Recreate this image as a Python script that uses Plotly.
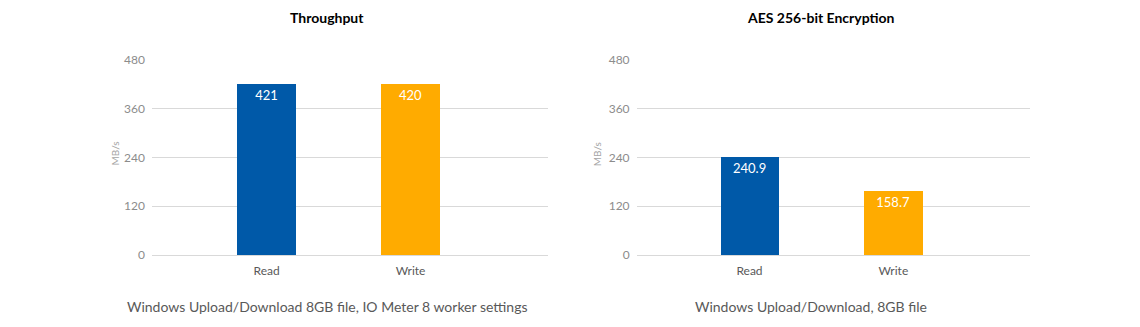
import plotly.graph_objects as go

categories = ["Read", "Write"]
throughput = [421, 420]
encryption = [240.9, 158.7]
y_ticks = [0, 120, 240, 360, 480]
bar_colors = ["#0059A8", "#FFAB00"]

panel_titles = ["Throughput", "AES 256-bit Encryption"]
panel_captions = [
    "Windows Upload/Download 8GB file, IO Meter 8 worker settings",
    "Windows Upload/Download, 8GB file",
]
unit_label = "MB/s"

FONT = "Lato, Open Sans, sans-serif"
W, H = 1140, 327

fig = go.Figure()
for i, vals in enumerate([throughput, encryption]):
    fig.add_trace(go.Bar(
        x=categories, y=vals,
        marker=dict(color=bar_colors, line=dict(width=0)),
        width=0.408,
        text=[f"{v:g}" for v in vals],
        textposition="inside", insidetextanchor="end",
        textfont=dict(color="white", size=13, family=FONT),
        xaxis="x" if i == 0 else "x2",
        yaxis="y" if i == 0 else "y2",
        showlegend=False, hoverinfo="skip",
    ))

# plot areas in pixels: left panel and right panel
x_domains = [[152 / W, 548 / W], [636.6 / W, 1030.4 / W]]
x_ranges = [[-0.796, 1.955], [-0.785, 1.953]]
y_domain = [(H - 259) / H, (H - 54) / H]

axis_common_x = dict(
    type="category", showgrid=False, zeroline=False,
    showline=False, ticks="", tickfont=dict(size=12, color="#595959", family=FONT),
    ticklabelstandoff=7, fixedrange=True,
)
axis_common_y = dict(
    range=[0, 480], tickvals=y_ticks, showgrid=True, gridcolor="#D9D9D9",
    gridwidth=1, zeroline=True, zerolinecolor="#D9D9D9", zerolinewidth=1,
    showline=False, ticks="", tickfont=dict(size=12, color="#8C8C8C", family=FONT),
    ticklabelstandoff=6, domain=y_domain, fixedrange=True,
)

fig.update_layout(
    width=W, height=H,
    margin=dict(l=0, r=0, t=0, b=0),
    paper_bgcolor="white", plot_bgcolor="white",
    bargap=0,
    xaxis=dict(domain=x_domains[0], range=x_ranges[0], anchor="y", **axis_common_x),
    xaxis2=dict(domain=x_domains[1], range=x_ranges[1], anchor="y2", **axis_common_x),
    yaxis=dict(anchor="x", **axis_common_y),
    yaxis2=dict(anchor="x2", **axis_common_y),
)

title_x = [327, 820.6]
caption_x = [327, 810.6]
unit_x = [114.6, 597.3]
annotations = []
for i in range(2):
    annotations.append(dict(
        x=title_x[i] / W, y=1 - 10 / H, xref="paper", yref="paper",
        text=f"<b>{panel_titles[i]}</b>", showarrow=False,
        font=dict(size=14, color="#000000", family=FONT),
        xanchor="center", yanchor="middle",
    ))
    annotations.append(dict(
        x=caption_x[i] / W, y=1 - 313 / H, xref="paper", yref="paper",
        text=panel_captions[i], showarrow=False,
        font=dict(size=14, color="#595959", family=FONT),
        xanchor="center", yanchor="middle",
    ))
    annotations.append(dict(
        x=unit_x[i] / W, y=1 - 153 / H, xref="paper", yref="paper",
        text=unit_label, showarrow=False, textangle=-90,
        font=dict(size=10, color="#A6A6A6", family=FONT),
        xanchor="center", yanchor="middle",
    ))
fig.update_layout(annotations=annotations)

fig.write_html("out.html")
